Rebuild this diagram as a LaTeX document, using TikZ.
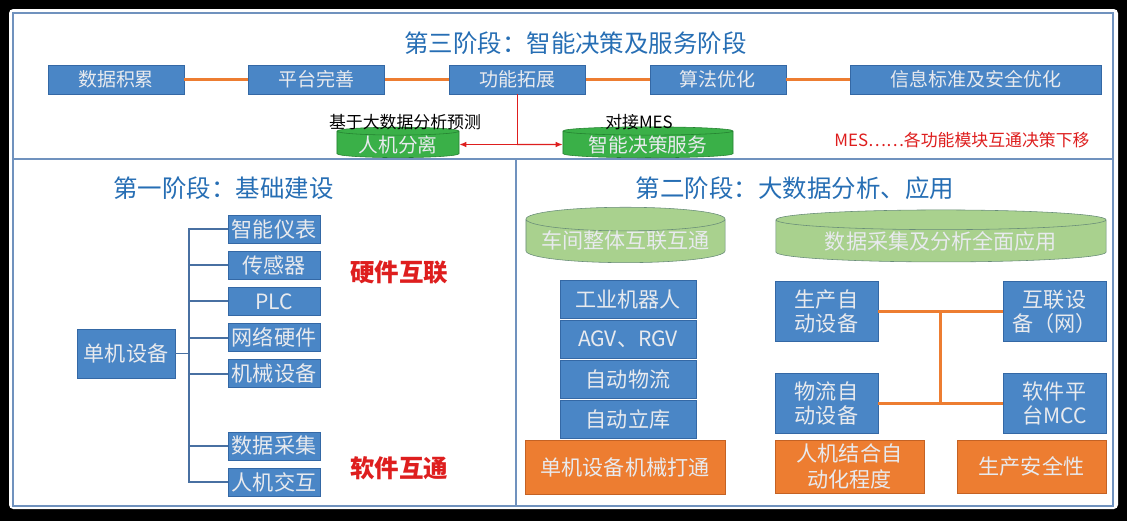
\documentclass[tikz,border=0pt]{standalone}
\usepackage{fontspec}
\setmainfont{Noto Sans CJK SC}
\usetikzlibrary{arrows.meta, positioning, shapes.geometric, calc}
\definecolor{boxblue}{RGB}{74,134,198}
\definecolor{boxline}{RGB}{52,104,165}
\definecolor{boxtext}{RGB}{232,234,238}
\definecolor{titleblue}{RGB}{38,110,180}
\definecolor{linkorange}{RGB}{237,125,49}
\definecolor{orangeline}{RGB}{196,98,36}
\definecolor{cylgreen}{RGB}{58,176,72}
\definecolor{cylgreenline}{RGB}{36,128,48}
\definecolor{cyllight}{RGB}{169,209,142}
\definecolor{cyllightline}{RGB}{104,140,120}
\definecolor{frameblue}{RGB}{112,146,190}
\definecolor{treeline}{RGB}{72,112,162}
\definecolor{alertred}{RGB}{222,30,30}

\begin{document}
\begin{tikzpicture}[x=0.025cm, y=-0.025cm,
    node distance=1.6cm,
    box/.style={draw=boxline, fill=boxblue, text=boxtext, inner sep=0pt, align=center},
    topbox/.style={box, minimum width=3.4cm, minimum height=0.725cm, font=\fontsize{13.5}{16}\selectfont},
    hwbox/.style={box, minimum width=2.3cm, minimum height=0.7cm, font=\fontsize{15}{17}\selectfont},
    stackbox/.style={box, minimum width=3.4cm, minimum height=0.94cm, font=\fontsize{15}{17}\selectfont},
    autobox/.style={box, minimum width=2.575cm, minimum height=1.5cm, font=\fontsize{15}{17}\selectfont},
    orangebox/.style={draw=orangeline, fill=linkorange, text=boxtext, inner sep=0pt, align=center, font=\fontsize{15}{18}\selectfont},
    topcyl/.style={cylinder, shape border rotate=90, draw=cylgreenline, fill=cylgreen, text=boxtext, inner sep=0pt, minimum height=0.625cm, font=\fontsize{14}{16}\selectfont},
    lowcyl/.style={cylinder, shape border rotate=90, draw=cyllightline, fill=cyllight, text=boxtext, inner sep=0pt, minimum height=1.3cm, font=\fontsize{15}{17}\selectfont},
    title/.style={text=titleblue, font=\fontsize{17.4}{20}\selectfont},
    note/.style={text=black, font=\fontsize{12}{14}\selectfont},
    alert/.style={text=alertred, font=\fontsize{12}{14}\selectfont},
    hard/.style={text=alertred, font=\fontsize{17.4}{20}\selectfont\bfseries},
    link/.style={draw=linkorange, line width=2.2pt},
    tree/.style={draw=treeline, line width=1.4pt},
    redline/.style={draw=alertred, line width=0.8pt}
  ]
  \useasboundingbox (0,0) rectangle (1127,521);
  % frame
  \fill[black] (0,0) rectangle (1127,521);
  \fill[white, rounded corners=3pt] (9,9) rectangle (1118,509);
  \draw[frameblue, line width=0.8pt] (13,13) rectangle (1113,506);
  \draw[frameblue, line width=0.8pt] (13,159) -- (1113,159);
  \draw[frameblue, line width=0.8pt] (516,159) -- (516,506);

  % stage 3
  \node[title] (t3) at (575.5,43) {第三阶段：智能决策及服务阶段};
  \node[topbox] (accu) at (116,79.5) {数据积累};
  \node[topbox, right=of accu] (plat) {平台完善};
  \node[topbox, right=of plat] (func) {功能拓展};
  \node[topbox, right=of func] (algo) {算法优化};
  \node[topbox, right=of algo, minimum width=6.275cm] (secu) {信息标准及安全优化};
  \foreach \a/\b in {accu/plat, plat/func, func/algo, algo/secu}
    \draw[link] (\a) -- (\b);

  \node[topcyl, minimum width=3.05cm, aspect=0.1] (sepa) at (398,144.5) {人机分离};
  \node[topcyl, minimum width=4.25cm, aspect=0.07] (deci) at (648,144.5) {智能决策服务};
  \node[note] (predict) at (405,122) {基于大数据分析预测};
  \node[note] (mesin) at (639,122) {对接MES};
  \node[alert] (mesdown) at (962,140) {MES……各功能模块互通决策下移};
  \coordinate (fork) at (func.south |- sepa.east);
  \draw[redline] (func.south) -- (fork);
  \draw[redline, -{Latex[length=5pt,width=4pt]}] (fork) -- (sepa.east);
  \draw[redline, -{Latex[length=5pt,width=4pt]}] (fork) -- (deci.west);

  % stage 1
  \node[title] (t1) at (223.5,188) {第一阶段：基础建设};
  \node[box, minimum width=2.45cm, minimum height=1.225cm, font=\fontsize{15}{17}\selectfont] (single) at (126,353.5) {单机设备};
  \node[hwbox] (meter) at (274,229) {智能仪表};
  \node[hwbox, below=0.19cm of meter] (sensor) {传感器};
  \node[hwbox, below=0.19cm of sensor] (plc) {PLC};
  \node[hwbox, below=0.19cm of plc] (net) {网络硬件};
  \node[hwbox, below=0.19cm of net] (mech) {机械设备};
  \node[hwbox, below=1.09cm of mech] (acq) {数据采集};
  \node[hwbox, below=0.19cm of acq] (hmi) {人机交互};
  \foreach \n in {meter, sensor, plc, net, mech, acq, hmi}
    \draw[tree] (single.east) -- ++(14,0) |- (\n.west);
  \node[hard] (hwlink) at (399,272) {硬件互联};
  \node[hard] (swlink) at (399,468) {软件互通};

  % stage 2
  \node[title] (t2) at (795,188) {第二阶段：大数据分析、应用};
  \node[lowcyl, minimum width=4.975cm, aspect=0.14] (shop) at (625.5,241) {车间整体互联互通};
  \node[stackbox] (robot) at (628,299) {工业机器人};
  \node[stackbox, below=0.05cm of robot] (agv) {AGV、RGV};
  \node[stackbox, below=0.05cm of agv] (flow) {自动物流};
  \node[stackbox, below=0.05cm of flow] (store) {自动立库};
  \node[orangebox, minimum width=5cm, minimum height=1.35cm] (mechlink) at (625,467) {单机设备机械打通};

  \node[lowcyl, minimum width=8.25cm, aspect=0.085] (app) at (941,241) {数据采集及分析全面应用};
  \node[autobox] (prod) at (826.5,311.5) {生产自\\动设备};
  \node[autobox] (netdev) at (1054.5,311.5) {互联设\\备（网）};
  \node[autobox] (logi) at (826.5,403.5) {物流自\\动设备};
  \node[autobox] (mcc) at (1054.5,403.5) {软件平\\台MCC};
  \draw[link] (prod) -- (netdev);
  \draw[link] (logi) -- (mcc);
  \draw[link] ($(prod.east)!0.5!(netdev.west)$) -- ($(logi.east)!0.5!(mcc.west)$);
  \node[orangebox, minimum width=3.725cm, minimum height=1.325cm] (hmc) at (849.5,466.5) {人机结合自\\动化程度};
  \node[orangebox, minimum width=3.725cm, minimum height=1.325cm] (safe) at (1031.5,466.5) {生产安全性};
\end{tikzpicture}
\end{document}
